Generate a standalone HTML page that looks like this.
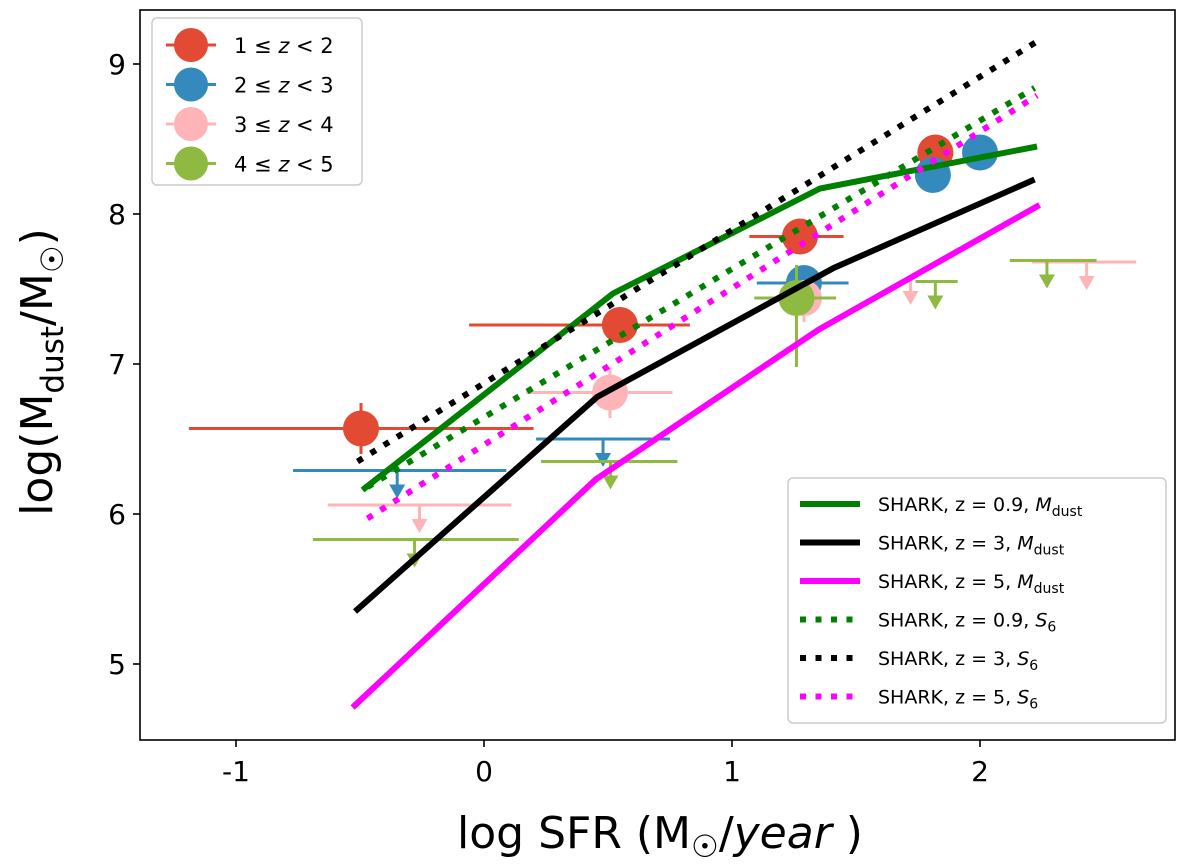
<!DOCTYPE html>
<html><head><meta charset="utf-8"><style>
html,body{margin:0;padding:0;background:#fff;}
svg{display:block;font-family:"DejaVu Sans","Liberation Sans",sans-serif;}
</style></head><body>
<svg id="chart" width="1200" height="867" viewBox="0 0 1200 867">
<g id="marks"></g>
<rect x="140" y="10" width="1035" height="730" fill="none" stroke="#000" stroke-width="1.6"/>
<g id="axes"></g>
<text x="52" y="372" font-size="44" text-anchor="middle" transform="rotate(-90 52 372)">log(M<tspan font-size="31" dy="11">dust</tspan><tspan dy="-11">/M</tspan><tspan font-size="31" dy="11">☉</tspan><tspan dy="-11">)</tspan></text>
<text x="660" y="848" font-size="44" text-anchor="middle">log SFR (M<tspan font-size="31" dy="9">☉</tspan><tspan dy="-9">/</tspan><tspan font-style="italic">year</tspan> )</text>
<g id="legend1"></g>
<g id="legend2"></g>
</svg>
<script>
const xTicks=[-1,0,1,2];
const yTicks=[5,6,7,8,9];
// detections: [x, y, xlo, xhi, ylo, yhi]
const detRed=[[-0.496,6.57,-1.19,0.2,6.40,6.74],[0.548,7.26,-0.06,0.83,7.15,7.33],[1.274,7.85,1.07,1.45,7.78,7.93],[1.82,8.41,1.82,1.82,8.32,8.47]];
const detBlue=[[1.29,7.54,1.1,1.47,7.47,7.6],[1.81,8.26,1.81,1.81,8.22,8.3],[2.0,8.41,2.0,2.0,8.35,8.44]];
const detPink=[[0.508,6.81,0.17,0.76,6.64,6.98],[1.29,7.44,1.25,1.33,7.28,7.48]];
const detGreen=[[1.26,7.44,1.09,1.42,6.98,7.66]];
// upper limits: [x, y, xlo, xhi]
const limBlue=[[-0.35,6.29,-0.77,0.09],[0.48,6.5,0.21,0.75]];
const limPink=[[-0.26,6.06,-0.63,0.11],[1.72,7.58,1.72,1.72],[2.43,7.68,2.21,2.63]];
const limGreen=[[-0.28,5.83,-0.69,0.14],[0.51,6.35,0.23,0.78],[1.82,7.55,1.74,1.91],[2.27,7.69,2.12,2.47]];
// model lines
const lineX_g=[-0.49,0.52,1.355,2.23], lineY_g=[6.16,7.47,8.17,8.45];
const lineX_k=[-0.52,0.456,1.41,2.22], lineY_k=[5.35,6.78,7.64,8.23];
const lineX_m=[-0.53,0.45,1.35,2.24], lineY_m=[4.71,6.23,7.23,8.06];
const dotX_g=[-0.47,2.22], dotY_g=[6.18,8.84];
const dotX_k=[-0.51,2.23], dotY_k=[6.35,9.15];
const dotX_m=[-0.47,2.23], dotY_m=[5.97,8.79];

const NS="http://www.w3.org/2000/svg";
const X=v=>484+248*v, Y=v=>664-150*(v-5);
function mk(parent,tag,attrs){const e=document.createElementNS(NS,tag);for(const k in attrs)e.setAttribute(k,attrs[k]);parent.appendChild(e);return e;}
const marks=document.getElementById('marks'), axes=document.getElementById('axes');
xTicks.forEach(t=>{
 const l=mk(axes,'line',{x1:X(t),x2:X(t),y1:740,y2:747,stroke:'#000','stroke-width':1.6});
 
 
 const tx=mk(axes,'text',{x:X(t),y:781,'font-size':28,'text-anchor':'middle'});tx.textContent=String(t);
 
 
});
yTicks.forEach(t=>{
 const l=mk(axes,'line',{x1:133,x2:140,y1:Y(t),y2:Y(t),stroke:'#000','stroke-width':1.6});
 
 
 const tx=mk(axes,'text',{x:126,y:Y(t)+10,'font-size':28,'text-anchor':'end'});tx.textContent=String(t);
 
 
});
function poly(xs,ys,color,dotted,name){
 const p=mk(marks,'polyline',{points:xs.map((x,i)=>X(x)+','+Y(ys[i])).join(' '),fill:'none',stroke:color,'stroke-width':6,'stroke-dasharray':dotted?'6 9.5':'none'});
 
 
}
function lim(arr,color,name){
 arr.forEach(d=>{
  const g=mk(marks,'g',{});
  
  
  mk(g,'line',{x1:X(d[2]),x2:X(d[3]),y1:Y(d[1]),y2:Y(d[1]),stroke:color,'stroke-width':3});
  const x=X(d[0]),y=Y(d[1]);
  mk(g,'line',{x1:x,x2:x,y1:y,y2:y+16,stroke:color,'stroke-width':3});
  mk(g,'polygon',{points:`${x-8},${y+14} ${x+8},${y+14} ${x},${y+28}`,fill:color});
 });
}
function det(arr,color,name){
 arr.forEach(d=>{
  const g=mk(marks,'g',{});
  
  
  mk(g,'line',{x1:X(d[2]),x2:X(d[3]),y1:Y(d[1]),y2:Y(d[1]),stroke:color,'stroke-width':3});
  mk(g,'line',{x1:X(d[0]),x2:X(d[0]),y1:Y(d[4]),y2:Y(d[5]),stroke:color,'stroke-width':3});
  mk(g,'circle',{cx:X(d[0]),cy:Y(d[1]),r:18,fill:color});
 });
}
const cR='#E24A33',cB='#348ABD',cP='#FFB5B8',cG='#8EBA42';
lim(limBlue,cB,'upper-limit-z2-3');lim(limPink,cP,'upper-limit-z3-4');lim(limGreen,cG,'upper-limit-z4-5');
det(detRed,cR,'point-z1-2');det(detBlue,cB,'point-z2-3');det(detPink,cP,'point-z3-4');det(detGreen,cG,'point-z4-5');
poly(lineX_g,lineY_g,'#008000',false,'line-shark-z0.9-mdust');
poly(lineX_k,lineY_k,'#000',false,'line-shark-z3-mdust');
poly(lineX_m,lineY_m,'#FF00FF',false,'line-shark-z5-mdust');
poly(dotX_g,dotY_g,'#008000',true,'line-shark-z0.9-s6');
poly(dotX_k,dotY_k,'#000',true,'line-shark-z3-s6');
poly(dotX_m,dotY_m,'#FF00FF',true,'line-shark-z5-s6');

// legend 1
const L1=document.getElementById('legend1');
mk(L1,'rect',{x:152,y:18,width:210,height:167,rx:5,fill:'#fff','fill-opacity':0.85,stroke:'#ccc','stroke-width':1.5});
[['1',cR,'2'],['2',cB,'3'],['3',cP,'4'],['4',cG,'5']].forEach((e,i)=>{
 const y=45+i*39.5;
 const g=mk(L1,'g',{});
 
 
 mk(g,'line',{x1:166,x2:216,y1:y,y2:y,stroke:e[1],'stroke-width':3});
 mk(g,'line',{x1:191,x2:191,y1:y-12,y2:y+12,stroke:e[1],'stroke-width':3});
 mk(g,'circle',{cx:191,cy:y,r:17,fill:e[1]});
 const t=mk(g,'text',{x:234,y:y+8,'font-size':21});
 t.innerHTML=`${e[0]} ≤ <tspan font-style="italic">z</tspan> &lt; ${e[2]}`;
});
// legend 2
const L2=document.getElementById('legend2');
mk(L2,'rect',{x:788,y:478,width:378,height:245,rx:5,fill:'#fff','fill-opacity':0.85,stroke:'#ccc','stroke-width':1.5});
[['#008000',0,'0.9','M','dust'],['#000',0,'3','M','dust'],['#FF00FF',0,'5','M','dust'],['#008000',1,'0.9','S','6'],['#000',1,'3','S','6'],['#FF00FF',1,'5','S','6']].forEach((e,i)=>{
 const y=504+i*38.5;
 const g=mk(L2,'g',{});
 
 
 mk(g,'line',{x1:800,x2:860,y1:y,y2:y,stroke:e[0],'stroke-width':6,'stroke-dasharray':e[1]?'6 9.5':'none'});
 const t=mk(g,'text',{x:878,y:y+7,'font-size':19});
 t.innerHTML=`SHARK, z = ${e[2]}, <tspan font-style="italic">${e[3]}</tspan><tspan font-size="14" dy="5">${e[4]}</tspan>`;
});
</script>
</body></html>
